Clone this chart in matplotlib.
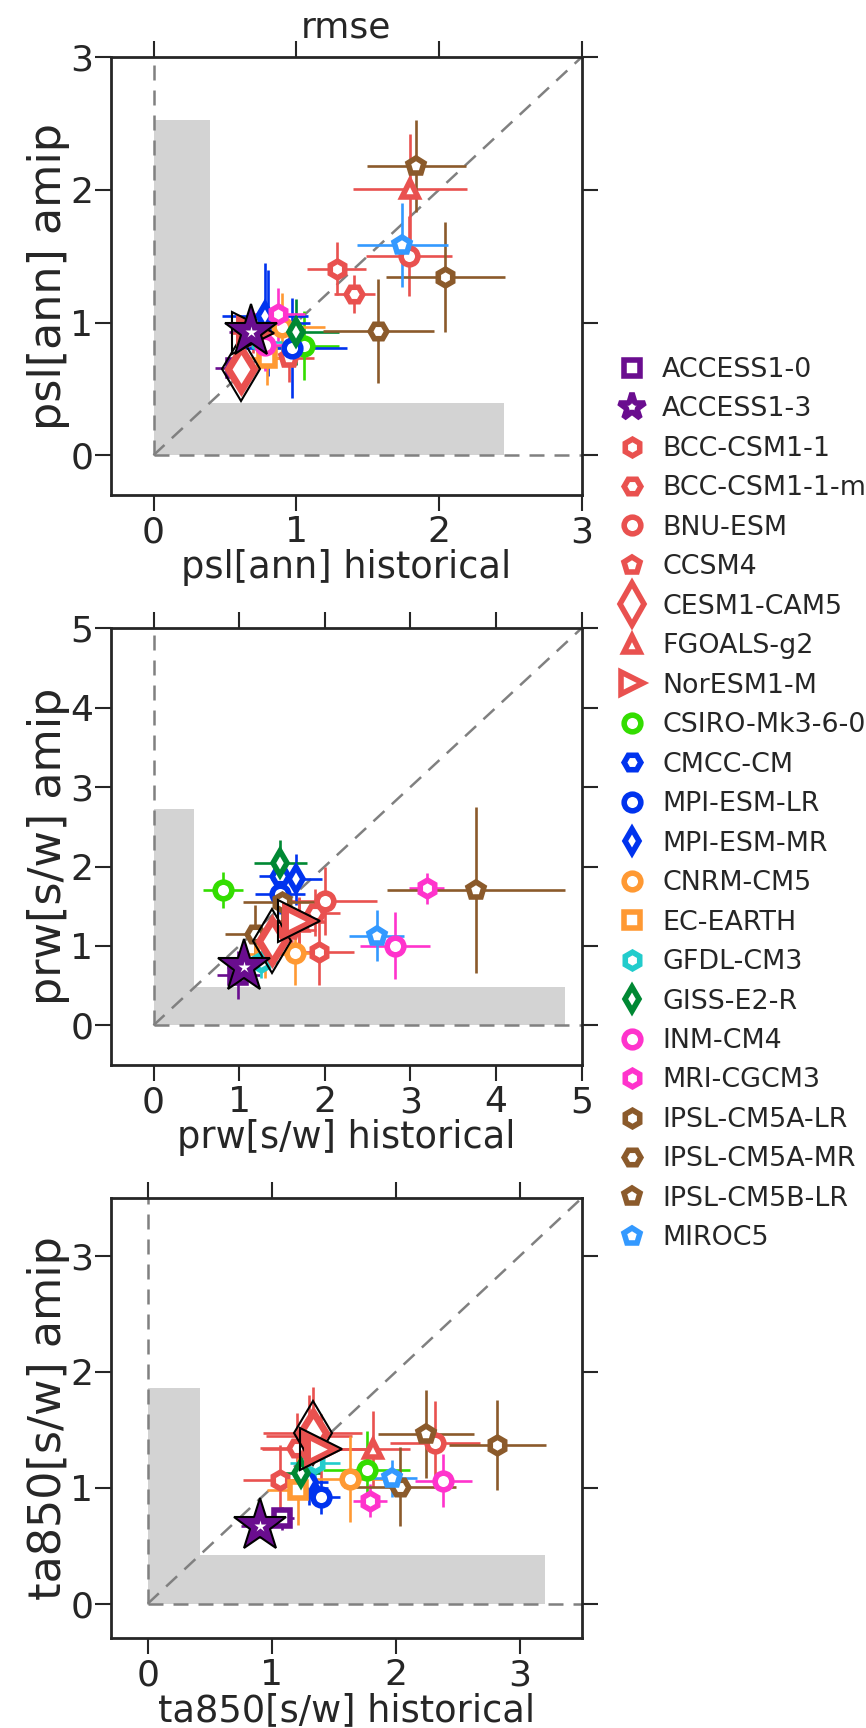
import matplotlib
matplotlib.use("Agg")
import matplotlib.pyplot as plt
from matplotlib.lines import Line2D
import numpy as np

plt.rcParams['font.family'] = ['DejaVu Sans']
TXT = '#262626'

models = ["ACCESS1-0", "ACCESS1-3", "BCC-CSM1-1", "BCC-CSM1-1-m", "BNU-ESM", "CCSM4",
          "CESM1-CAM5", "FGOALS-g2", "NorESM1-M", "CSIRO-Mk3-6-0", "CMCC-CM",
          "MPI-ESM-LR", "MPI-ESM-MR", "CNRM-CM5", "EC-EARTH", "GFDL-CM3", "GISS-E2-R",
          "INM-CM4", "MRI-CGCM3", "IPSL-CM5A-LR", "IPSL-CM5A-MR", "IPSL-CM5B-LR", "MIROC5"]
colors = ["#6a0d8f", "#6a0d8f", "#e9514f", "#e9514f", "#e9514f", "#e9514f",
          "#e9514f", "#e9514f", "#e9514f", "#33dd00", "#0033ee",
          "#0033ee", "#0033ee", "#ff9933", "#ff9933", "#22cccc", "#008833",
          "#ff33cc", "#ff33cc", "#8b5a2b", "#8b5a2b", "#8b5a2b", "#3399ff"]
markers = ["s", "*", "h", "H", "o", "p", "d", "^", ">", "o", "H",
           "o", "d", "o", "s", "h", "d", "o", "h", "h", "H", "p", "p"]
# highlighted models, in drawing order (last on top)
highlight = ["CESM1-CAM5", "NorESM1-M", "ACCESS1-3"]

# psl[ann]
psl_hist = [0.58, 0.68, 1.285, 1.408, 1.792, 0.947, 0.612, 1.80, 0.70, 1.057, 0.80,
            0.97, 0.78, 0.90, 0.796, 0.75, 1.00, 0.784, 0.87, 2.046, 1.576, 1.843, 1.743]
psl_hist_err = [0.15, 0.15, 0.207, 0.146, 0.30, 0.18, 0.10, 0.40, 0.15, 0.24, 0.30,
                0.385, 0.30, 0.30, 0.20, 0.15, 0.30, 0.20, 0.19, 0.415, 0.39, 0.35, 0.32]
psl_amip = [0.66, 0.93, 1.405, 1.216, 1.502, 0.732, 0.65, 2.01, 0.92, 0.825, 1.00,
            0.808, 1.05, 0.97, 0.732, 0.85, 0.928, 0.833, 1.063, 1.342, 0.938, 2.18, 1.585]
psl_amip_err = [0.12, 0.12, 0.20, 0.144, 0.30, 0.18, 0.10, 0.41, 0.15, 0.26, 0.40,
                0.38, 0.40, 0.25, 0.20, 0.15, 0.25, 0.20, 0.20, 0.415, 0.39, 0.345, 0.32]

# prw[s/w]
prw_hist = [0.99, 1.055, 1.929, 1.89, 2.006, 1.60, 1.385, 1.70, 1.696, 0.815, 1.48,
            1.48, 1.668, 1.657, 1.30, 1.25, 1.482, 2.825, 3.19, 1.50, 1.18, 3.772, 2.608]
prw_hist_err = [0.25, 0.20, 0.41, 0.29, 0.60, 0.30, 0.25, 0.30, 0.30, 0.233, 0.25,
                0.29, 0.30, 0.30, 0.25, 0.20, 0.31, 0.41, 0.20, 0.45, 0.35, 1.04, 0.32]
prw_amip = [0.63, 0.732, 0.929, 1.42, 1.569, 1.20, 1.067, 1.30, 1.318, 1.703, 1.88,
            1.65, 1.84, 0.912, 0.90, 0.795, 2.038, 1.004, 1.724, 1.548, 1.15, 1.703, 1.13]
prw_amip_err = [0.30, 0.20, 0.42, 0.30, 0.43, 0.30, 0.30, 0.30, 0.30, 0.23, 0.25,
                0.25, 0.32, 0.41, 0.30, 0.20, 0.30, 0.42, 0.20, 0.30, 0.36, 1.045, 0.32]

# ta850[s/w]
ta_hist = [1.082, 0.903, 1.069, 1.203, 2.318, 1.30, 1.33, 1.816, 1.394, 1.767, 1.30,
           1.397, 1.30, 1.633, 1.209, 1.351, 1.238, 2.385, 1.794, 2.82, 2.036, 2.245, 1.969]
ta_hist_err = [0.10, 0.15, 0.30, 0.30, 0.36, 0.35, 0.40, 0.30, 0.47, 0.35, 0.15,
               0.15, 0.15, 0.35, 0.25, 0.20, 0.15, 0.23, 0.135, 0.39, 0.45, 0.385, 0.20]
ta_amip = [0.736, 0.67, 1.068, 1.342, 1.391, 1.45, 1.47, 1.336, 1.336, 1.154, 1.00,
           0.924, 1.05, 1.074, 0.981, 1.212, 1.131, 1.062, 0.889, 1.371, 1.01, 1.466, 1.082]
ta_amip_err = [0.10, 0.10, 0.30, 0.30, 0.36, 0.35, 0.40, 0.33, 0.30, 0.34, 0.15,
               0.15, 0.15, 0.37, 0.30, 0.15, 0.15, 0.23, 0.14, 0.39, 0.34, 0.38, 0.16]

# shaded observational bands: [width of thin band, extent along x, extent along y]
obs_band = [0.395, 0.477, 0.422]
band_x_extent = [2.455, 4.81, 3.205]
band_y_extent = [2.526, 2.73, 1.861]

panels = [
    ("psl[ann] historical", "psl[ann] amip", psl_hist, psl_hist_err, psl_amip, psl_amip_err, (-0.3, 3.0), [0, 1, 2, 3]),
    ("prw[s/w] historical", "prw[s/w] amip", prw_hist, prw_hist_err, prw_amip, prw_amip_err, (-0.5, 5.0), [0, 1, 2, 3, 4, 5]),
    ("ta850[s/w] historical", "ta850[s/w] amip", ta_hist, ta_hist_err, ta_amip, ta_amip_err, (-0.3, 3.5), [0, 1, 2, 3]),
]

W, H = 866, 1728
fig = plt.figure(figsize=(W / 100, H / 100), dpi=100)
boxes = [(110.7, 57.3, 581.5, 495.0), (110.7, 628.3, 581.5, 1065.0), (110.7, 1198.3, 581.5, 1638.3)]

MS, MEW = 12, 4.0
for i, (xl, yl, xh, xhe, ya, yae, lim, ticks) in enumerate(panels):
    l, t, r, b = boxes[i]
    ax = fig.add_axes([l / W, 1 - b / H, (r - l) / W, (b - t) / H])
    ax.set_xlim(*lim)
    ax.set_ylim(*lim)
    # gray band
    ax.fill_between([0, obs_band[i]], 0, band_y_extent[i], color='#d3d3d3', lw=0, zorder=0)
    ax.fill_between([0, band_x_extent[i]], 0, obs_band[i], color='#d3d3d3', lw=0, zorder=0)
    dash = dict(color='#808080', lw=1.8, ls=(0, (6, 4)), zorder=1)
    ax.plot([0, 0], [0, lim[1]], **dash)
    ax.plot([0, lim[1]], [0, 0], **dash)
    ax.plot([0, lim[1]], [0, lim[1]], **dash)
    for k, m in enumerate(models):
        c = colors[k]
        ax.errorbar(xh[k], ya[k], xerr=xhe[k], yerr=yae[k], fmt='none', ecolor=c,
                    elinewidth=1.9, capsize=0, zorder=2 + k * 0.01)
        if m not in highlight:
            ax.plot(xh[k], ya[k], ls='none', marker=markers[k], ms=MS, mfc='white', mec=c,
                    mew=MEW, zorder=3 + k * 0.01)
    for j, m in enumerate(highlight):
        k = models.index(m)
        c = colors[k]
        z = 4 + j * 0.1
        if markers[k] == '*':
            ax.plot(xh[k], ya[k], ls='none', marker='*', ms=40, mfc=c, mec='black', mew=1.5, zorder=z)
            ax.plot(xh[k], ya[k], ls='none', marker='*', ms=9, mfc='white', mec='none', zorder=z + 0.01)
        else:
            big = 33 if markers[k] == 'd' else 30
            ax.plot(xh[k], ya[k], ls='none', marker=markers[k], ms=big * 0.66, mfc='white', mec=c,
                    mew=MEW + 1, zorder=z)
            ax.plot(xh[k], ya[k], ls='none', marker=markers[k], ms=big, mfc='none', mec='black',
                    mew=1.5, zorder=z + 0.01)
    ax.set_xticks(ticks)
    ax.set_yticks(ticks)
    ax.tick_params(direction='out', length=11.5, width=1.5, top=True, right=True,
                   labeltop=False, labelright=False, labelsize=26, pad=1, colors=TXT)
    ax.tick_params(axis='x', pad=3)
    for s in ax.spines.values():
        s.set_linewidth(2)
        s.set_color(TXT)
    ax.set_xlabel(xl, fontsize=26.5, color=TXT, labelpad=0)
    ax.set_ylabel(yl, fontsize=32, color=TXT, labelpad=0)
    if i == 0:
        ax.set_title("rmse", fontsize=26, color=TXT, pad=14)

handles = []
for k, m in enumerate(models):
    if m == "ACCESS1-3":
        ms = 20
    elif m == "CESM1-CAM5":
        ms = 21
    elif m == "NorESM1-M":
        ms = 16
    else:
        ms = MS
    handles.append(Line2D([], [], ls='none', marker=markers[k], ms=ms, mfc='white', mec=colors[k], mew=MEW))
fig.legend(handles, models, loc='upper left', bbox_to_anchor=(619.3 / W, 1 - 357.0 / H),
           frameon=False, fontsize=19.4, handlelength=0.95, handletextpad=0.64,
           labelspacing=0.5, borderpad=0, borderaxespad=0, labelcolor=TXT)

fig.savefig("out.png", dpi=100)
